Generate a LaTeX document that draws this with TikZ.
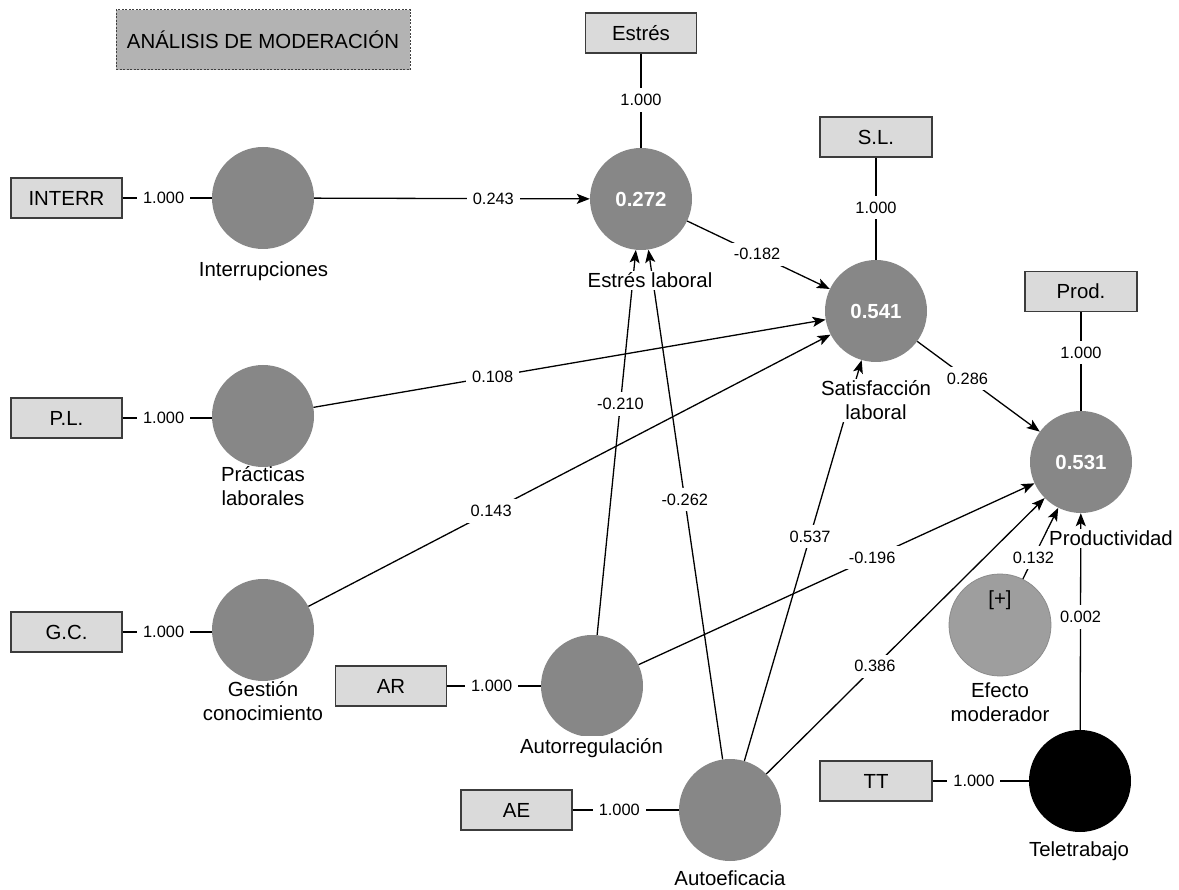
\documentclass[tikz,border=0pt]{standalone}
\usepackage{fontspec}
\setmainfont{Liberation Sans}
\usetikzlibrary{arrows.meta}
\definecolor{latent}{HTML}{878787}
\definecolor{moder}{HTML}{9E9E9E}
\definecolor{moderline}{HTML}{8C8C8C}
\definecolor{indfill}{HTML}{DADADA}
\definecolor{indline}{HTML}{3C3C3C}
\definecolor{titlefill}{HTML}{B3B3B3}
\begin{document}
\begin{tikzpicture}[x=1pt,y=-1pt,
  latentvar/.style={circle, fill=latent, minimum size=102pt, inner sep=0pt,
    text=white, font=\fontsize{20.4}{24}\selectfont\bfseries},
  indicator/.style={rectangle, draw=indline, fill=indfill, line width=1.2pt,
    minimum width=111pt, minimum height=40pt, inner sep=0pt,
    font=\fontsize{20.4}{24}\selectfont},
  vlabel/.style={fill=white, inner xsep=1pt, inner ysep=2pt, align=center,
    font=\fontsize{20.4}{24}\selectfont},
  plainlabel/.style={vlabel, fill=none},
  coef/.style={fill=white, inner xsep=6pt, inner ysep=6pt,
    font=\fontsize{16.4}{19}\selectfont},
  link/.style={draw=black, line width=1.3pt},
  effect/.style={link, -{Stealth[length=13pt,width=10pt,inset=3pt]}},
]
\useasboundingbox (0,0) rectangle (1179,890);

% title
\node (title) [rectangle, fill=titlefill, draw=black!75, line width=1pt,
  dash pattern=on 2pt off 1.5pt, minimum width=294pt, minimum height=60pt,
  font=\fontsize{20.4}{24}\selectfont] at (263,40) {ANÁLISIS DE MODERACIÓN};

% latent variables
\node (cI)  [latentvar] at (263,198) {};
\node (cP)  [latentvar] at (263,416) {};
\node (cG)  [latentvar] at (263,630) {};
\node (cE)  [latentvar] at (641,199) {0.272};
\node (cS)  [latentvar] at (876,311) {0.541};
\node (cPr) [latentvar] at (1081,462) {0.531};
\node (cAR) [latentvar] at (592,686) {};
\node (cAE) [latentvar] at (730,810) {};
\node (cM)  [latentvar, fill=moder, draw=moderline, line width=0.8pt] at (1000,625) {};
\node (cT)  [latentvar, fill=black] at (1080,781) {};
\node (plus) [font=\fontsize{20.4}{24}\selectfont] at ([yshift=25pt]cM.center) {[+]};

% indicators
\node (bIN) [indicator] at (66.5,198) {INTERR};
\node (bPL) [indicator] at (66.5,418) {P.L.};
\node (bGC) [indicator] at (66.5,632) {G.C.};
\node (bEs) [indicator] at (641,33) {Estrés};
\node (bSL) [indicator, minimum width=112pt] at (876,137) {S.L.};
\node (bPr) [indicator, minimum width=112pt] at (1081,291.5) {Prod.};
\node (bAR) [indicator] at (391,686) {AR};
\node (bAE) [indicator] at (516.5,810) {AE};
\node (bTT) [indicator, minimum width=112pt] at (876,781) {TT};

% outer loadings
\draw[link] (bIN) -- node[coef, pos=.46] {1.000} (cI);
\draw[link] (bPL.east) -- node[coef, pos=.46] {1.000} (cP.west |- bPL.east);
\draw[link] (bGC.east) -- node[coef, pos=.46] {1.000} (cG.west |- bGC.east);
\draw[link] (bEs) -- node[coef, pos=.49] {1.000} (cE);
\draw[link] (bSL) -- node[coef, pos=.49] {1.000} (cS);
\draw[link] (bPr) -- node[coef, pos=.41] {1.000} (cPr);
\draw[link] (bAR) -- node[coef, pos=.475] {1.000} (cAR);
\draw[link] (bAE) -- node[coef, pos=.44] {1.000} (cAE);
\draw[link] (bTT) -- node[coef, pos=.43] {1.000} (cT);

% path coefficients
\draw[effect] (cI)  -- node[coef, pos=.65] {0.243} (cE);
\draw[effect] (cE)  -- node[coef, pos=.49] {-0.182} (cS);
\draw[effect] (cP)  -- node[coef, pos=.35] {0.108} (cS);
\draw[effect] (cG)  -- node[coef, pos=.35] {0.143} (cS);
\draw[effect] (cS)  -- node[coef, pos=.41] {0.286} (cPr);
\draw[effect] (cAR) -- node[coef, pos=.60] {-0.210} (cE);
\draw[effect] (cAE) -- node[coef, pos=.51] {-0.262} (cE);
\draw[effect] (cAE) -- node[coef, pos=.56] {0.537} (cS);
\draw[effect] (cAR) -- node[coef, pos=.59] {-0.196} (cPr);
\draw[effect] (cAE) -- node[coef, pos=.39] {0.386} (cPr);
\draw[effect] (cM)  -- node[coef, pos=.30] {0.132} (cPr);
\draw[effect] (cT)  -- node[coef, pos=.52] {0.002} (cPr);

% construct names
\node (nI)  [vlabel, anchor=base] at (263.5,277) {Interrupciones};
\node (nE)  [vlabel, anchor=base] at (650,288) {Estrés laboral};
\node (nS)  [vlabel] at (876,400.5) {Satisfacción\\laboral};
\node (nPr) [vlabel, anchor=base] at (1111,546) {Productividad};
\node (nP)  [plainlabel] at (263,486) {Prácticas\\laborales};
\node (nG)  [plainlabel] at (263,701) {Gestión\\conocimiento};
\node (nAR) [vlabel, anchor=base] at (591.5,753) {Autorregulación};
\node (nAE) [vlabel, anchor=base] at (730,885) {Autoeficacia};
\node (nM)  [vlabel] at (1000,702.5) {Efecto\\moderador};
\node (nT)  [vlabel, anchor=base] at (1079,856) {Teletrabajo};
\end{tikzpicture}
\end{document}
